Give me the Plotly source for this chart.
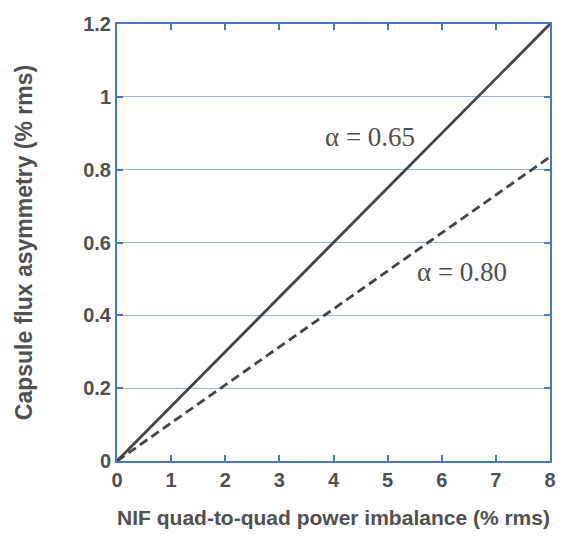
import plotly.graph_objects as go

x_vals = [0, 8]
y_alpha065 = [0, 1.2]
y_alpha080 = [0, 0.835]
x_ticks = [0, 1, 2, 3, 4, 5, 6, 7, 8]
y_ticks = [0, 0.2, 0.4, 0.6, 0.8, 1, 1.2]
y_ticklabels = ["0", "0.2", "0.4", "0.6", "0.8", "1", "1.2"]

axis_blue = "#4a78c0"
grid_blue = "#9ab6e2"
text_gray = "#505050"
line_gray = "#444444"

fig = go.Figure()
fig.add_trace(go.Scatter(x=x_vals, y=y_alpha065, mode="lines",
                         line=dict(color=line_gray, width=2.8), showlegend=False))
fig.add_trace(go.Scatter(x=x_vals, y=y_alpha080, mode="lines",
                         line=dict(color=line_gray, width=2.8, dash="9px,5px"), showlegend=False))

fig.add_annotation(x=4.67, y=0.89, text="α = 0.65", showarrow=False,
                   font=dict(family="Liberation Serif", size=27, color=text_gray))
fig.add_annotation(x=6.37, y=0.52, text="α = 0.80", showarrow=False,
                   font=dict(family="Liberation Serif", size=27, color=text_gray))

# page body has an 8px margin: size the figure so the page fits the window
fig.update_layout(
    width=549, height=521,
    margin=dict(l=109, r=7, t=16, b=68),
    paper_bgcolor="white", plot_bgcolor="white",
    font=dict(family="Liberation Sans", color=text_gray),
)
fig.update_xaxes(
    range=[0, 8], tickvals=x_ticks, automargin=False,
    ticks="inside", ticklen=6, tickwidth=1.5, tickcolor=axis_blue,
    showline=True, linecolor=axis_blue, linewidth=2, mirror="ticks",
    showgrid=False, zeroline=False,
    tickfont=dict(family="Liberation Sans", size=20, color=text_gray, weight="bold"),
    title=dict(text="<b>NIF quad-to-quad power imbalance (% rms)</b>",
               font=dict(family="Liberation Sans", size=21, color=text_gray), standoff=27),
)
fig.update_yaxes(
    range=[0, 1.2], tickvals=y_ticks, ticktext=y_ticklabels, automargin=False,
    ticks="inside", ticklen=6, tickwidth=1.5, tickcolor=axis_blue,
    showline=True, linecolor=axis_blue, linewidth=2, mirror="ticks",
    showgrid=True, gridcolor=grid_blue, gridwidth=1.2, zeroline=False,
    tickfont=dict(family="Liberation Sans", size=20, color=text_gray, weight="bold"),
    title=dict(text="<b>Capsule flux asymmetry (% rms)</b>",
               font=dict(family="Liberation Sans", size=23, color=text_gray), standoff=44),
)
fig.write_html("out.html")
